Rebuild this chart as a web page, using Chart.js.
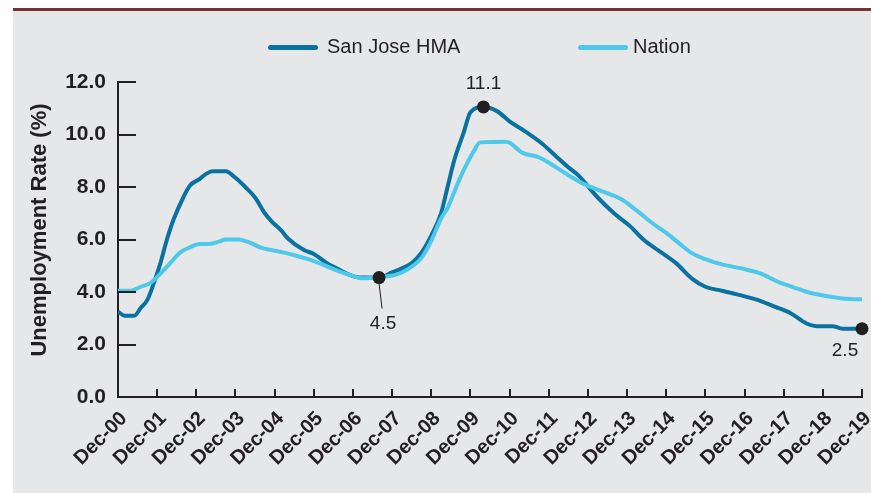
<!DOCTYPE html>
<html>
<head>
<meta charset="utf-8">
<script src="https://cdn.jsdelivr.net/npm/chart.js"></script>
<style>
  html, body { margin: 0; padding: 0; background: #fff; }
  #wrap { position: relative; width: 871px; height: 493px; overflow: hidden; }
  #panel { position: absolute; left: 13px; top: 11px; right: 0; bottom: 0; background: #e6e7e8; }
  #rule { position: absolute; left: 13px; top: 8px; right: 0; height: 3px; background: #763232; }
  .key { position: absolute; top: 34px; font: 20px "Liberation Sans", Arial, sans-serif; color: #231f20; white-space: nowrap; line-height: 24px; }
  .key i { display: inline-block; width: 50px; height: 5px; border-radius: 3px; vertical-align: middle; }
  canvas { position: absolute; left: 0; top: 0; }
</style>
</head>
<body>
<div id="wrap">
  <div id="panel"></div>
  <div id="rule"></div>
  <canvas id="myChart" width="871" height="493"></canvas>
  <div class="key" style="left:268px"><i style="background:#0a72a0;margin-right:9px"></i>San Jose HMA</div>
  <div class="key" style="left:578px"><i style="background:#4ec9ea;margin-right:5px"></i>Nation</div>
</div>
<script>
// x = months since Dec-00
const tickLabels = ["Dec-00", "Dec-01", "Dec-02", "Dec-03", "Dec-04", "Dec-05", "Dec-06", "Dec-07", "Dec-08", "Dec-09",
  "Dec-10", "Dec-11", "Dec-12", "Dec-13", "Dec-14", "Dec-15", "Dec-16", "Dec-17", "Dec-18", "Dec-19"];

const sjMonths = [0, 2, 5, 7, 9, 11, 13, 15, 17, 20, 22, 25, 27, 29, 33, 36, 39, 42, 45, 47, 50, 52, 57, 60, 64, 67, 71, 74,
  80, 84, 87, 90, 93, 96, 99, 101, 103, 106, 108, 112, 116, 120, 125, 130, 134, 138, 141, 147, 152, 157, 161, 166, 171,
  176, 180, 185, 190, 196, 201, 206, 211, 214, 219, 222, 228];
const sjRates = [3.25, 3.1, 3.1, 3.4, 3.7, 4.35, 5.1, 6.0, 6.75, 7.6, 8.05, 8.3, 8.5, 8.6, 8.6, 8.35, 8.0, 7.6, 7.0, 6.7,
  6.35, 6.05, 5.6, 5.45, 5.1, 4.9, 4.65, 4.55, 4.55, 4.75, 4.9, 5.1, 5.5, 6.15, 7.0, 8.0, 9.0, 10.1, 10.85, 11.05, 10.9,
  10.5, 10.1, 9.65, 9.2, 8.75, 8.45, 7.6, 7.0, 6.5, 6.0, 5.55, 5.1, 4.5, 4.2, 4.05, 3.9, 3.7, 3.45, 3.2, 2.8, 2.7, 2.7,
  2.6, 2.6];

const usMonths = [0, 4, 7, 10, 13, 16, 19, 22, 25, 28, 31, 33, 37, 40, 44, 47, 51, 55, 59, 63, 67, 71, 75, 81, 85, 89, 93,
  96, 99, 101, 104, 106, 109, 111, 119, 124, 129, 133, 138, 143, 148, 154, 159, 164, 168, 172, 176, 180, 185, 191, 197,
  202, 207, 212, 217, 222, 228];
const usRates = [4.05, 4.05, 4.2, 4.35, 4.7, 5.1, 5.5, 5.7, 5.83, 5.83, 5.92, 6.0, 6.0, 5.9, 5.68, 5.6, 5.5, 5.37, 5.22,
  5.03, 4.82, 4.65, 4.52, 4.58, 4.65, 4.88, 5.3, 5.95, 6.8, 7.2, 8.1, 8.65, 9.35, 9.7, 9.72, 9.3, 9.13, 8.85, 8.45, 8.1,
  7.85, 7.55, 7.1, 6.6, 6.25, 5.85, 5.47, 5.25, 5.05, 4.9, 4.7, 4.4, 4.18, 3.97, 3.85, 3.75, 3.72];

const calloutMonths = [80, 112, 228];
const calloutTexts = ["4.5", "11.1", "2.5"];
const yTitle = "Unemployment Rate (%)";

const ink = "#231f20";
Chart.defaults.font.family = "'Liberation Sans', Arial, sans-serif";
Chart.defaults.color = ink;

const toPoints = (xs, ys) => xs.map((m, i) => ({ x: m, y: ys[i] }));

const marks = {
  id: "marks",
  afterDatasetsDraw(chart) {
    const { ctx, chartArea: a, scales: { x, y } } = chart;
    ctx.save();
    ctx.strokeStyle = ink;
    ctx.lineWidth = 2;
    ctx.beginPath();
    x.ticks.forEach(t => {
      const px = Math.round(x.getPixelForValue(t.value));
      ctx.moveTo(px, a.bottom);
      ctx.lineTo(px, a.bottom - 8);
    });
    y.ticks.forEach(t => {
      if (t.value === 0) return;
      const py = Math.round(y.getPixelForValue(t.value));
      ctx.moveTo(a.left, py);
      ctx.lineTo(a.left + 18, py);
    });
    ctx.stroke();

    // y axis title
    ctx.save();
    ctx.translate(40, 230);
    ctx.rotate(-Math.PI / 2);
    ctx.font = "bold 22px 'Liberation Sans', Arial, sans-serif";
    ctx.fillStyle = ink;
    ctx.textAlign = "center";
    ctx.textBaseline = "middle";
    ctx.fillText(yTitle, 0, 0);
    ctx.restore();

    // callout labels
    const place = [{ dx: 4, dy: 46, leader: true }, { dx: 0, dy: -23 }, { dx: -17, dy: 22 }];
    const pts = chart.getDatasetMeta(2).data;
    ctx.font = "19px 'Liberation Sans Narrow', 'Liberation Sans', Arial, sans-serif";
    ctx.fillStyle = ink;
    ctx.textAlign = "center";
    ctx.textBaseline = "middle";
    pts.forEach((p, i) => {
      const o = place[i];
      if (o.leader) {
        ctx.lineWidth = 1;
        ctx.beginPath();
        ctx.moveTo(p.x, p.y + 6);
        ctx.lineTo(p.x + 3, p.y + 31);
        ctx.stroke();
      }
      ctx.fillText(calloutTexts[i], p.x + o.dx, p.y + o.dy);
    });
    ctx.restore();
  }
};

const config = {
  type: "line",
  data: {
    datasets: [
      {
        label: "San Jose HMA",
        data: toPoints(sjMonths, sjRates),
        borderColor: "#0a72a0",
        borderWidth: 4,
        pointRadius: 0,
        cubicInterpolationMode: "monotone",
        order: 3,
      },
      {
        label: "Nation",
        data: toPoints(usMonths, usRates),
        borderColor: "#4ec9ea",
        borderWidth: 4,
        pointRadius: 0,
        cubicInterpolationMode: "monotone",
        order: 2,
      },
      {
        label: "callouts",
        data: calloutMonths.map(m => ({ x: m, y: sjRates[sjMonths.indexOf(m)] })),
        showLine: false,
        pointRadius: 6.5,
        pointBackgroundColor: ink,
        pointBorderWidth: 0,
        clip: false,
        order: 1,
      },
    ],
  },
  options: {
    responsive: false,
    animation: false,
    layout: { padding: { top: 82, right: 9, bottom: 0, left: 0 } },
    plugins: {
      legend: { display: false },
      tooltip: { enabled: false },
    },
    scales: {
      x: {
        type: "linear",
        min: 0,
        max: 228,
        grid: { display: false, drawTicks: false },
        border: { display: true, color: ink, width: 2 },
        ticks: {
          stepSize: 12,
          autoSkip: false,
          minRotation: 45,
          maxRotation: 45,
          padding: 10,
          labelOffset: 6,
          color: ink,
          font: { size: 20, weight: "bold" },
          callback: v => tickLabels[v / 12],
        },
        afterFit: s => { s.height = 96; s.paddingLeft = 0; s.paddingRight = 0; },
      },
      y: {
        min: 0,
        max: 12,
        grid: { display: false, drawTicks: false },
        border: { display: true, color: ink, width: 2 },
        ticks: {
          stepSize: 2,
          padding: 12,
          color: ink,
          font: { size: 21, weight: "bold" },
          callback: v => v.toFixed(1),
        },
        afterFit: s => { s.width = 118; },
      },
    },
  },
  plugins: [marks],
};

const myChart = new Chart(document.getElementById("myChart"), config);
</script>
</body>
</html>
